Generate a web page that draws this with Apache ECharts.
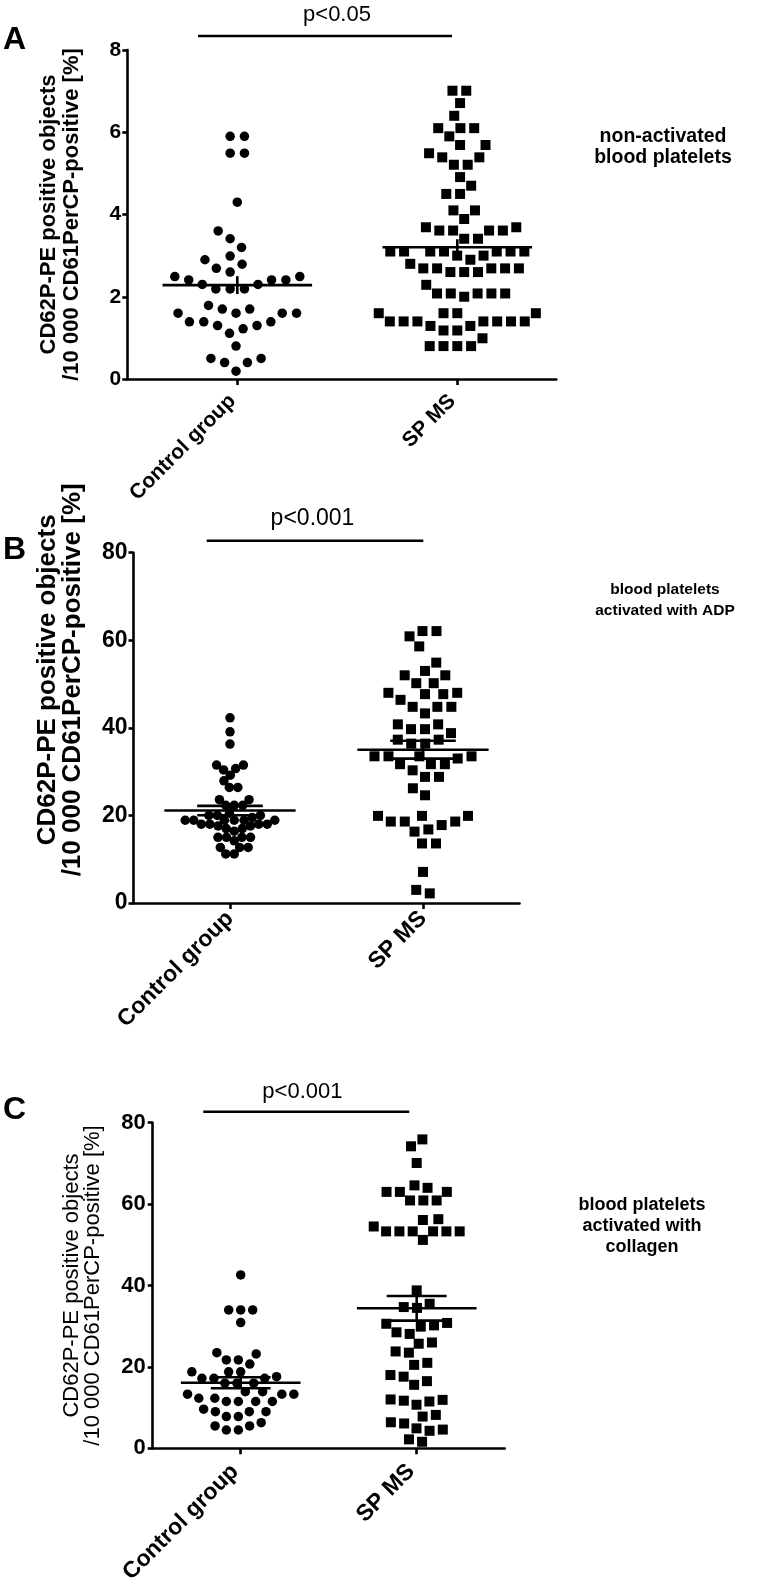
<!DOCTYPE html>
<html>
<head>
<meta charset="utf-8">
<script src="https://cdn.jsdelivr.net/npm/echarts@6/dist/echarts.min.js"></script>
<style>
html,body{margin:0;padding:0;background:#fff;}
#c{width:758px;height:1594px;}
</style>
</head>
<body>
<div id="c"></div>
<script>
// ---------------- DATA ----------------
const categories = ['Control group', 'SP MS'];
const yTicksA = [0, 2, 4, 6, 8];
const yTicksB = [0, 20, 40, 60, 80];
const yTicksC = [0, 20, 40, 60, 80];
const yAxisTitle = 'CD62P-PE positive objects\n/10 000 CD61PerCP-positive [%]';
const panelLetters = ['A', 'B', 'C'];
const pLabels = ['p<0.05', 'p<0.001', 'p<0.001'];
const conditionLabels = [
  'non-activated\nblood platelets',
  'blood platelets\nactivated with ADP',
  'blood platelets\nactivated with\ncollagen'
];

// Panel A: non-activated
const aControl = [5.90, 5.90, 5.49, 5.49, 4.30, 3.60, 3.41, 3.20, 2.99, 2.90, 2.79, 2.69, 2.60,
  2.49, 2.49, 2.41, 2.41, 2.41, 2.30, 2.30, 2.19, 2.19, 2.19, 1.79, 1.70, 1.70, 1.60, 1.60, 1.60,
  1.60, 1.39, 1.39, 1.39, 1.30, 1.30, 1.22, 1.11, 0.80, 0.50, 0.50, 0.40, 0.40, 0.19];
const aSpms = [7.01, 7.01, 6.71, 6.40, 6.10, 6.10, 6.10, 5.90, 5.69, 5.69, 5.49, 5.39, 5.39, 5.21,
  5.21, 4.91, 4.70, 4.50, 4.50, 4.10, 4.10, 3.89, 3.69, 3.69, 3.61, 3.61, 3.61, 3.61, 3.41, 3.41,
  3.10, 3.10, 3.10, 3.10, 3.10, 3.10, 3.10, 3.00, 3.00, 2.90, 2.80, 2.69, 2.69, 2.69, 2.69, 2.69,
  2.60, 2.60, 2.60, 2.29, 2.08, 2.08, 2.08, 2.08, 2.08, 2.00, 1.60, 1.60, 1.60, 1.60, 1.40, 1.40,
  1.40, 1.40, 1.40, 1.40, 1.40, 1.29, 1.29, 1.18, 1.18, 0.99, 0.80, 0.80, 0.80, 0.80];

// Panel B: activated with ADP
const bControl = [42.3, 39.1, 36.3, 31.5, 31.5, 30.7, 30.4, 29.2, 27.9, 26.4, 26.4, 23.6, 23.6,
  22.3, 22.3, 22.3, 20.5, 19.5, 20.0, 20.0, 20.0, 18.9, 18.9, 18.9, 18.9, 18.9, 18.9, 18.0, 18.0,
  18.0, 18.0, 17.6, 17.6, 17.0, 17.0, 16.4, 15.0, 15.0, 15.0, 15.0, 14.2, 12.7, 12.7, 12.7, 11.2, 11.2];
const bSpms = [62.1, 62.1, 60.9, 58.6, 54.9, 53.0, 52.0, 52.0, 50.2, 50.2, 48.0, 48.0, 47.7, 47.7,
  46.4, 44.8, 44.8, 44.8, 43.3, 40.8, 40.8, 39.7, 39.7, 38.8, 37.3, 37.3, 36.4, 36.4, 33.5, 33.5,
  33.5, 33.5, 33.0, 31.7, 31.7, 31.7, 30.3, 28.8, 28.8, 26.2, 24.6, 19.9, 19.9, 19.9, 18.6, 18.6,
  18.6, 17.8, 16.8, 16.3, 13.6, 13.6, 7.1, 3.0, 2.2];

// Panel C: activated with collagen
const cControl = [42.6, 34.0, 34.0, 34.0, 30.9, 23.5, 23.2, 21.7, 21.7, 20.7, 18.8, 18.8, 18.8,
  17.6, 17.2, 17.2, 17.2, 16.0, 16.0, 16.0, 13.9, 13.9, 13.3, 13.3, 13.3, 12.3, 12.3, 11.5, 11.5,
  11.5, 11.5, 9.6, 9.0, 9.0, 9.0, 7.8, 7.8, 6.3, 5.5, 5.5, 4.5, 4.5];
const cSpms = [75.9, 74.2, 70.1, 64.6, 64.0, 63.0, 63.0, 63.0, 60.9, 60.9, 60.9, 56.3, 56.1, 54.5,
  53.3, 53.3, 53.3, 53.3, 53.3, 53.3, 51.2, 38.8, 35.5, 34.7, 34.5, 30.8, 30.6, 30.2, 29.9, 28.5,
  28.1, 26.0, 25.7, 23.8, 23.5, 21.0, 20.5, 18.0, 17.6, 16.5, 15.6, 12.0, 11.9, 11.7, 11.5, 10.7,
  8.2, 7.8, 6.4, 6.1, 4.9, 4.6, 4.3, 2.2, 1.6];

// ---------------- LAYOUT ----------------
const FONT = '"Liberation Sans", Arial, Helvetica, sans-serif';
const panels = [
  { groups: [aControl, aSpms], yTicks: yTicksA,
    grid: { left: 127.3, top: 50, width: 429, height: 329 }, xMin: 0.5, xMax: 2.45,
    tickFont: 21, tickMargin: 6, nameFont: 22, nameWeight: 'bold', nameGap: 43.5, nameLH: 23, namePad: 0,
    xFont: 21, xMargin: 14, xPad: 7,
    swarmD: [14.3, 13.8], capHalf: 0,
    pLine: { x1: 198, x2: 452, y: 36 }, pText: { x: 337, y: 15, size: 22 },
    letter: { x: 3, y: 40 }, cond: { x: 663, y: 147, size: 19.5, lh: 21 } },
  { groups: [bControl, bSpms], yTicks: yTicksB,
    grid: { left: 133.5, top: 552.7, width: 386, height: 350.3 }, xMin: 0.5, xMax: 2.5,
    tickFont: 23, tickMargin: 6, nameFont: 26, nameWeight: 'bold', nameGap: 48.5, nameLH: 25, namePad: 96,
    xFont: 23, xMargin: 12, xPad: 0,
    swarmD: [8.5, 14], capHalf: 0.17,
    pLine: { x1: 206.7, x2: 423.3, y: 540.7 }, pText: { x: 312.5, y: 519, size: 23 },
    letter: { x: 3, y: 550 }, cond: { x: 665, y: 600, size: 15.5, lh: 21 } },
  { groups: [cControl, cSpms], yTicks: yTicksC,
    grid: { left: 152.7, top: 1122.7, width: 352, height: 325.6 }, xMin: 0.5, xMax: 2.5,
    tickFont: 22, tickMargin: 7, nameFont: 22, nameWeight: 'normal', nameGap: 49, nameLH: 21, namePad: 0,
    xFont: 23, xMargin: 14, xPad: 8,
    swarmD: [12, 13.3], capHalf: 0.17,
    pLine: { x1: 203.3, x2: 409.3, y: 1111.7 }, pText: { x: 302.4, y: 1092, size: 22 },
    letter: { x: 3, y: 1110 }, cond: { x: 642, y: 1226, size: 18, lh: 21 } }
];
const MEAN_HALF = 0.34;

// ---------------- HELPERS ----------------
function stats(arr) {
  const n = arr.length;
  const m = arr.reduce((s, v) => s + v, 0) / n;
  const sd = Math.sqrt(arr.reduce((s, v) => s + (v - m) * (v - m), 0) / (n - 1));
  return [m, sd / Math.sqrt(n)];
}

// beeswarm: horizontal pixel offsets computed from the values only
function swarmOffsets(values, pxPerY, D) {
  const order = values.map((_, i) => i).sort((a, b) => values[a] - values[b]);
  const pts = [];
  const xs = new Array(values.length).fill(0);
  let side = -1;
  for (const i of order) {
    const y = values[i] * pxPerY;
    const near = pts.filter(p => Math.abs(p.y - y) < D - 1e-9);
    const cands = [0];
    near.forEach(p => {
      const d = Math.sqrt(D * D - (p.y - y) * (p.y - y));
      cands.push(p.x - d, p.x + d);
    });
    const ok = c => near.every(p => (p.x - c) * (p.x - c) + (p.y - y) * (p.y - y) >= D * D - 1e-6);
    const valid = cands.filter(ok);
    valid.sort((a, b) => {
      const d = Math.abs(a) - Math.abs(b);
      if (Math.abs(d) > 1e-6) return d;
      return side < 0 ? a - b : b - a;
    });
    const best = valid[0];
    if (Math.abs(best) > 1e-6) side = best < 0 ? 1 : -1;
    pts.push({ x: best, y: y, i: i });
  }
  // center each vertically connected cluster
  pts.sort((a, b) => a.y - b.y);
  let start = 0;
  for (let k = 1; k <= pts.length; k++) {
    if (k === pts.length || pts[k].y - pts[k - 1].y >= D) {
      const grp = pts.slice(start, k);
      const mn = Math.min(...grp.map(p => p.x)), mx = Math.max(...grp.map(p => p.x));
      const sh = -(mn + mx) / 2;
      grp.forEach(p => { xs[p.i] = p.x + sh; });
      start = k;
    }
  }
  return xs;
}

function makeStatsRender(meanHalf, capHalf) {
  return function (params, api) {
    const x = api.value(0), m = api.value(1), s = api.value(2);
    const c = api.coord([x, m]);
    const t = api.coord([x, m + s]);
    const b = api.coord([x, m - s]);
    const hw = api.size([meanHalf, 0])[0];
    const cw = capHalf > 0 ? api.size([capHalf, 0])[0] : 0;
    const st = { stroke: '#000', lineWidth: 2.6, fill: null };
    const ch = [
      { type: 'line', shape: { x1: c[0] - hw, y1: c[1], x2: c[0] + hw, y2: c[1] }, style: st },
      { type: 'line', shape: { x1: c[0], y1: t[1], x2: c[0], y2: b[1] }, style: st }
    ];
    if (cw > 0) {
      ch.push({ type: 'line', shape: { x1: c[0] - cw, y1: t[1], x2: c[0] + cw, y2: t[1] }, style: st });
      ch.push({ type: 'line', shape: { x1: c[0] - cw, y1: b[1], x2: c[0] + cw, y2: b[1] }, style: st });
    }
    return { type: 'group', children: ch };
  };
}

// ---------------- BUILD OPTION ----------------
const grids = [], xAxes = [], yAxes = [], series = [], graphics = [];
const symbols = ['circle', 'rect'];
const symbolSizes = [9.5, 10];

panels.forEach((P, k) => {
  const yMin = P.yTicks[0], yMax = P.yTicks[P.yTicks.length - 1];
  const yInt = P.yTicks[1] - P.yTicks[0];
  grids.push(Object.assign({ containLabel: false, outerBoundsMode: 'none', show: false }, P.grid));
  const axisLineStyle = { color: '#000', width: 2.6 };
  xAxes.push({
    type: 'value', gridIndex: k, min: P.xMin, max: P.xMax,
    axisLine: { show: true, onZero: false, lineStyle: axisLineStyle },
    axisTick: { show: true, customValues: [1, 2], length: 6, lineStyle: axisLineStyle },
    axisLabel: {
      show: true, customValues: [1, 2], rotate: 45, margin: P.xMargin, padding: [0, P.xPad, 0, 0],
      formatter: v => categories[Math.round(v) - 1] || '',
      color: '#000', fontWeight: 'bold', fontSize: P.xFont, fontFamily: FONT
    },
    splitLine: { show: false }
  });
  yAxes.push({
    type: 'value', gridIndex: k, min: yMin, max: yMax, interval: yInt,
    axisLine: { show: true, onZero: false, lineStyle: axisLineStyle },
    axisTick: { show: true, length: 5, lineStyle: axisLineStyle },
    axisLabel: { color: '#000', fontWeight: 'bold', fontSize: P.tickFont, fontFamily: FONT, margin: P.tickMargin },
    splitLine: { show: false },
    name: yAxisTitle, nameLocation: 'middle', nameRotate: 90, nameGap: P.nameGap,
    nameMoveOverlap: false,
    nameTextStyle: {
      color: '#000', fontWeight: P.nameWeight, fontSize: P.nameFont, fontFamily: FONT,
      lineHeight: P.nameLH, align: 'center', padding: [0, 0, 0, P.namePad]
    }
  });

  const pxPerY = P.grid.height / (yMax - yMin);
  const pxPerX = P.grid.width / (P.xMax - P.xMin);
  const statData = [];
  P.groups.forEach((vals, g) => {
    const offs = swarmOffsets(vals, pxPerY, P.swarmD[g]);
    const center = g + 1;
    series.push({
      type: 'scatter', xAxisIndex: k, yAxisIndex: k,
      symbol: symbols[g], symbolSize: symbolSizes[g],
      itemStyle: { color: '#000', opacity: 1 },
      data: vals.map((v, i) => [center + offs[i] / pxPerX, v]),
      z: 2, silent: true
    });
    const st = stats(vals);
    statData.push([center, st[0], st[1]]);
  });
  series.push({
    type: 'custom', xAxisIndex: k, yAxisIndex: k, z: 3, silent: true,
    renderItem: makeStatsRender(MEAN_HALF, P.capHalf),
    encode: { x: 0, y: 1 },
    data: statData
  });

  // annotations
  graphics.push({
    type: 'line', shape: { x1: P.pLine.x1, y1: P.pLine.y, x2: P.pLine.x2, y2: P.pLine.y },
    style: { stroke: '#000', lineWidth: 2.4 }
  });
  graphics.push({
    type: 'text', x: P.pText.x, y: P.pText.y,
    style: { text: pLabels[k], fill: '#000', font: 'normal ' + P.pText.size + 'px ' + FONT,
      align: 'center', verticalAlign: 'middle', textAlign: 'center', textVerticalAlign: 'middle' }
  });
  graphics.push({
    type: 'text', x: P.letter.x, y: P.letter.y,
    style: { text: panelLetters[k], fill: '#000', font: 'bold 32px ' + FONT,
      align: 'left', verticalAlign: 'middle', textAlign: 'left', textVerticalAlign: 'middle' }
  });
  graphics.push({
    type: 'text', x: P.cond.x, y: P.cond.y,
    style: { text: conditionLabels[k], fill: '#000', font: 'bold ' + P.cond.size + 'px ' + FONT,
      lineHeight: P.cond.lh, align: 'center', verticalAlign: 'middle', textAlign: 'center', textVerticalAlign: 'middle' }
  });
});

const chart = echarts.init(document.getElementById('c'), null, { renderer: 'canvas', width: 758, height: 1594 });
chart.setOption({
  backgroundColor: '#fff',
  animation: false,
  grid: grids,
  xAxis: xAxes,
  yAxis: yAxes,
  series: series,
  graphic: graphics
});
</script>
</body>
</html>
